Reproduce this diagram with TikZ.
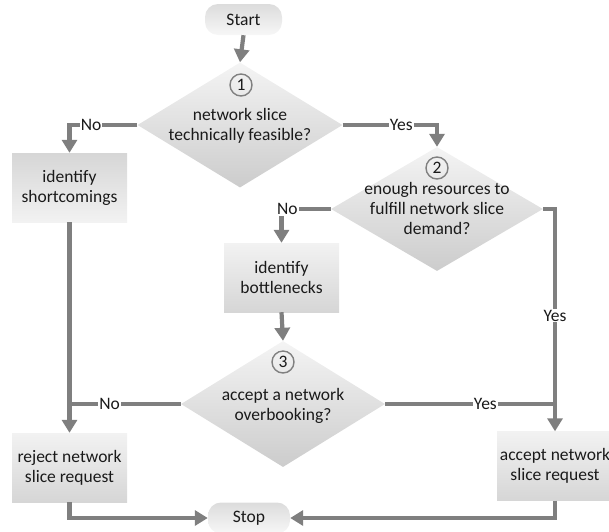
\documentclass[tikz,border=0pt]{standalone}
\usepackage{fontspec}
\setmainfont{Carlito}
\usetikzlibrary{shapes.geometric,arrows.meta}

\definecolor{lineGray}{HTML}{7F7F7F}
\definecolor{ringGray}{HTML}{808080}
\definecolor{decTop}{HTML}{F4F4F4}
\definecolor{decBot}{HTML}{CCCCCC}
\definecolor{boxTop}{HTML}{F2F2F2}
\definecolor{boxBot}{HTML}{D6D6D6}
\definecolor{termTop}{HTML}{DCDCDC}
\definecolor{termBot}{HTML}{F7F7F7}
\definecolor{inkText}{HTML}{1A1A1A}

\tikzset{
  decShape/.style={diamond, draw=none, inner sep=0pt, top color=decTop, bottom color=decBot},
  stepBox/.style={rectangle, draw=none, inner sep=0pt, align=center,
    minimum width=115pt, minimum height=69pt, top color=boxTop, bottom color=boxBot},
  termBox/.style={rectangle, draw=none, rounded corners=13pt, inner sep=0pt,
    minimum height=31pt, top color=termTop, bottom color=termBot},
  numRing/.style={circle, draw=ringGray, line width=1.4pt, minimum size=22pt, inner sep=0pt},
  flowLine/.style={draw=lineGray, line width=4.2pt},
  flowArrow/.style={flowLine, -{Triangle[width=15pt,length=13pt]}},
  flowLabel/.style={fill=white, inner sep=1pt}
}

\begin{document}
\begin{tikzpicture}[x=1pt, y=-1pt,
  every node/.style={font=\fontsize{17.5}{20}\selectfont, text=inkText}]

  \useasboundingbox (0,0) rectangle (609,531);

  % terminals
  \node[termBox, minimum width=77pt] (start) at (243.5,19.5) {Start};
  \node[termBox, minimum width=82pt] (stop) at (249,518) {Stop};

  % decisions
  \node[decShape, minimum width=205pt, minimum height=125pt] (d1) at (240,125) {};
  \node[decShape, minimum width=212pt, minimum height=124pt] (d2) at (437,209) {};
  \node[decShape, minimum width=204pt, minimum height=126pt] (d3) at (283,404) {};

  \node[numRing] (n1) at (241,85) {1};
  \node[numRing] (n2) at (437,168) {2};
  \node[numRing] (n3) at (283,362) {3};

  \node[align=center] (t1) at (240,126) {network slice\\technically feasible?};
  \node[align=center] (t2) at (437,208) {enough resources to\\fulfill network slice\\demand?};
  \node[align=center] (t3) at (283,406) {accept a network\\overbooking?};

  % process boxes
  \node[stepBox, top color=boxBot, bottom color=boxTop] (shortc) at (69.5,187.5) {identify\\shortcomings};
  \node[stepBox] (neck) at (281.5,277.5) {identify\\bottlenecks};
  \node[stepBox] (reject) at (69.5,467.5) {reject network\\slice request};
  \node[stepBox, minimum width=116pt] (accept) at (555,466) {accept network\\slice request};

  % connectors
  \draw[flowArrow] (start.south) -- (d1.north);
  \draw[flowArrow] (d1.west) -| (shortc.north) node[flowLabel, pos=.34] (lNo1) {No};
  \draw[flowArrow] (d1.east) -| (d2.north) node[flowLabel, pos=.31] (lYes1) {Yes};
  \draw[flowArrow] (d2.west) -| (neck.north) node[flowLabel, pos=.44] (lNo2) {No};
  \draw[flowArrow] (d2.east) -| (accept.north) node[flowLabel, pos=.74] (lYes2) {Yes};
  \draw[flowArrow] (neck.south) -- (d3.north);
  \draw[flowArrow] (shortc.south) -- (reject.north);
  \draw[flowLine] (d3.west) -- (d3.west -| reject.north) node[flowLabel, pos=.64] (lNo3) {No};
  \draw[flowLine] (d3.east) -- (d3.east -| accept.north) node[flowLabel, pos=.59] (lYes3) {Yes};
  \draw[flowArrow] (reject.south) |- (stop.west);
  \draw[flowArrow] (accept.south) |- (stop.east);

\end{tikzpicture}
\end{document}
